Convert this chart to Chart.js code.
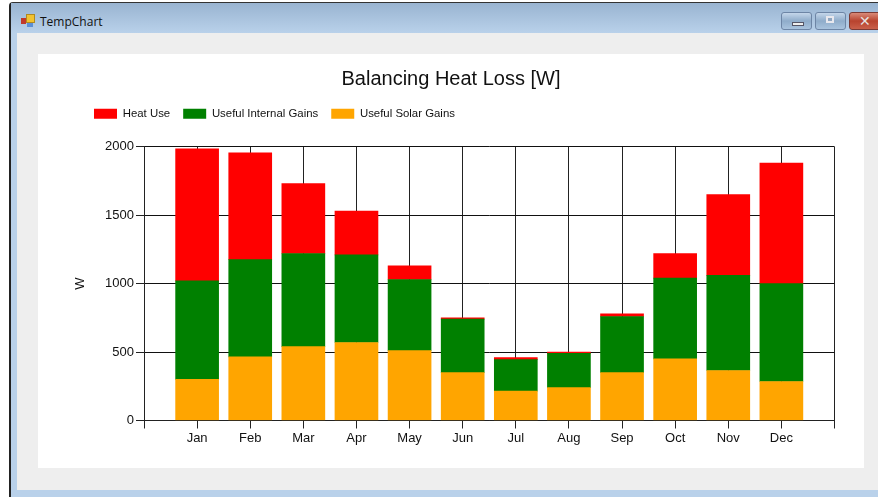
<!DOCTYPE html>
<html><head><meta charset="utf-8">
<script src="https://cdn.jsdelivr.net/npm/chart.js@4"></script>
<style>
html,body{margin:0;padding:0;background:#fff;overflow:hidden}
#win{position:absolute;left:9px;top:2px;width:869px;height:495px;box-sizing:border-box;border-left:2px solid #222;border-top:1px solid #333;background:#b9d1ea;border-top-left-radius:4px}
#bar{position:absolute;left:0;top:0;right:0;height:30px;background:linear-gradient(#99b4d1,#b9d1ea)}
#inner{position:absolute;left:6px;top:30px;right:0;bottom:7px;background:#eeeeee}
#panel{position:absolute;left:38px;top:54px;width:826px;height:414px;background:#fff}
#cap{position:absolute;left:40px;top:13px;font:12px "Open Sans",sans-serif;color:#111}
.ic{position:absolute}
.b{position:absolute;top:12px;height:18px;box-sizing:border-box;border:1px solid #6d85a5;border-radius:3px;background:linear-gradient(#c4d6ea,#8facca 50%,#a9c3de)}
</style></head><body>
<div id="win"><div id="bar"></div><div id="inner"></div></div>
<div class="ic" style="left:21px;top:18px;width:5px;height:6px;background:#c0392b"></div>
<div class="ic" style="left:26px;top:14px;width:7px;height:7px;background:#f2c230;border:1px solid #b08a20;box-sizing:content-box"></div>
<div class="ic" style="left:27px;top:23px;width:6px;height:4px;background:#5b8fd6"></div>
<div id="cap">TempChart</div>
<div class="b" style="left:781px;width:31px"><div style="position:absolute;left:10px;top:9px;width:10px;height:2px;background:#eee;border:1px solid #556"></div></div>
<div class="b" style="left:815px;width:31px"><div style="position:absolute;left:10px;top:3px;width:8px;height:7px;background:#8fa6c0;border:2px solid #e8e8ee;box-sizing:border-box"></div></div>
<div class="b" style="left:849px;width:32px;background:linear-gradient(#d98a78,#b8432e 50%,#c9604a);border-color:#7a3a35"><div style="position:absolute;left:9px;top:0;font:bold 14px 'DejaVu Sans';color:#e6e2e0;line-height:16px">✕</div></div>
<div id="panel"><canvas id="c" width="826" height="414"></canvas></div>
<script>
const months = ['Jan','Feb','Mar','Apr','May','Jun','Jul','Aug','Sep','Oct','Nov','Dec'];
const solarGains = [300,465,540,570,510,350,215,240,350,450,365,285];
const internalGains = [720,710,680,640,520,390,230,250,410,590,695,715];
const heatUse = [965,780,510,320,100,10,15,10,20,180,590,880];
const yTicks = [0,500,1000,1500,2000];
const pad = a => [null, ...a, null];
const font = {family:'"Liberation Sans",Arial,sans-serif'};
const legendPlace = {id:'legendPlace',beforeDraw(chart){chart.legend.left=43;chart.legend.top=41;}};
new Chart(document.getElementById('c'),{
  type:'bar',
  plugins:[legendPlace],
  data:{labels:['',...months,''],datasets:[
    {label:'Useful Solar Gains',data:pad(solarGains),backgroundColor:'#ffa500'},
    {label:'Useful Internal Gains',data:pad(internalGains),backgroundColor:'#008000'},
    {label:'Heat Use',data:pad(heatUse),backgroundColor:'#ff0000'}
  ]},
  options:{
    responsive:false,animation:false,
    datasets:{bar:{barThickness:43}},
    plugins:{
      tooltip:{enabled:false},
      title:{display:true,text:'Balancing Heat Loss [W]',color:'#111',font:{...font,size:20,weight:'normal'},padding:{top:13,bottom:21.3}},
      legend:{display:true,position:'top',align:'start',reverse:true,
        labels:{boxWidth:23,boxHeight:10,padding:13,color:'#111',font:{...font,size:11.4}}}
    },
    scales:{
      x:{offset:false,stacked:true,afterFit(s){s.height=47.5},
        grid:{offset:false,color:'#222',lineWidth:1,tickLength:8,tickColor:'#222',drawTicks:true},
        border:{color:'#222',width:1},
        ticks:{color:'#111',autoSkip:false,maxRotation:0,font:{...font,size:13},padding:2}},
      y:{stacked:true,min:0,max:2000,afterFit(s){s.width=106},
        afterBuildTicks:s=>{s.ticks=yTicks.map(v=>({value:v}))},
        grid:{color:'#111',lineWidth:1,tickLength:8,tickColor:'#222'},
        border:{color:'#222',width:1},
        title:{display:true,text:'W',color:'#111',font:{...font,size:13},padding:{top:35,bottom:0}},
        ticks:{color:'#111',font:{...font,size:13},padding:2,callback:v=>String(v)}},
      gutter:{position:'right',min:0,max:1,afterFit(s){s.width=29.5},
        grid:{display:false},border:{display:false},ticks:{display:false}}
    }
  }
});
</script>
</body></html>
